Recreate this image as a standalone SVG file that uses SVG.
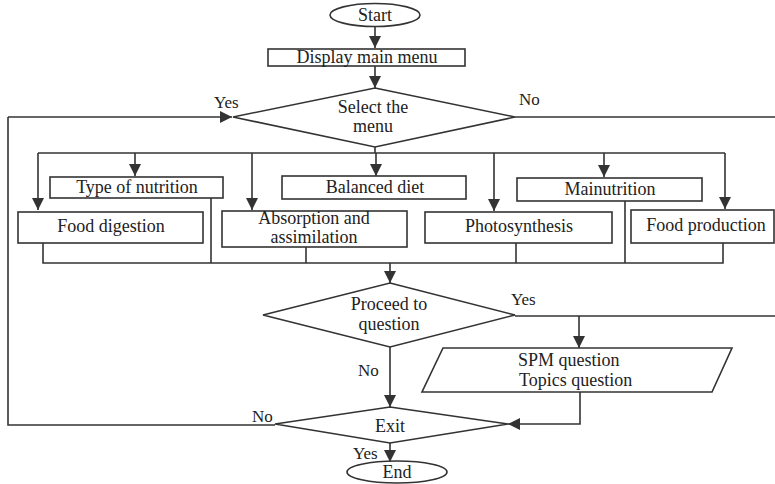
<svg xmlns="http://www.w3.org/2000/svg" width="775" height="484" viewBox="0 0 775 484">
<style>
.s{fill:#fff;stroke:#333;stroke-width:1.6}
.c{fill:none;stroke:#333;stroke-width:1.6}
text{font-family:"Liberation Serif","Times New Roman",serif;font-size:18px;fill:#222}
.m{text-anchor:middle}
.l{font-size:17px}
</style>
<defs>
<marker id="ah" viewBox="0 0 10 10" refX="10" refY="5" markerWidth="7" markerHeight="7" markerUnits="userSpaceOnUse" orient="auto">
<path d="M0,0 L10,5 L0,10 z" fill="#333"/>
</marker>
<marker id="a" viewBox="0 0 12 12" refX="12" refY="6" markerWidth="12" markerHeight="12" markerUnits="userSpaceOnUse" orient="auto">
<path d="M0,0 L12,6 L0,12 z" fill="#333"/>
</marker>
</defs>
<g id="connectors">
<path class="c" d="M375,27 V48" marker-end="url(#a)"/>
<path class="c" d="M375,66 V88" marker-end="url(#a)"/>
<path class="c" d="M8,117 H232" marker-end="url(#a)"/>
<path class="c" d="M8,117 V425 H275"/>
<path class="c" d="M515,117 H775"/>
<path class="c" d="M375,147 V153"/>
<path class="c" d="M38,153 H725"/>
<path class="c" d="M38,153 V210" marker-end="url(#a)"/>
<path class="c" d="M135,153 V176" marker-end="url(#a)"/>
<path class="c" d="M252,153 V210" marker-end="url(#a)"/>
<path class="c" d="M376,153 V176" marker-end="url(#a)"/>
<path class="c" d="M494,153 V211" marker-end="url(#a)"/>
<path class="c" d="M604,153 V177" marker-end="url(#a)"/>
<path class="c" d="M725,153 V209" marker-end="url(#a)"/>
<path class="c" d="M43,243 V263 H723 V243"/>
<path class="c" d="M211,198 V263"/>
<path class="c" d="M306,247 V263"/>
<path class="c" d="M516,243 V263"/>
<path class="c" d="M625,201 V263"/>
<path class="c" d="M390,263 V283" marker-end="url(#a)"/>
<path class="c" d="M515,316 H775"/>
<path class="c" d="M579,316 V348" marker-end="url(#a)"/>
<path class="c" d="M390,347 V407" marker-end="url(#a)"/>
<path class="c" d="M580,392 V424 H508" marker-end="url(#a)"/>
<path class="c" d="M390,443 V462" marker-end="url(#a)"/>
<text class="l" x="214" y="108">Yes</text>
<text class="l" x="519" y="105">No</text>
<text class="l" x="511" y="305">Yes</text>
<text class="l" x="358" y="376">No</text>
<text class="l" x="252" y="422">No</text>
<text class="l" x="353" y="459">Yes</text>
</g>
<g id="start">
<ellipse class="s" cx="375" cy="15" rx="45" ry="11.5"/>
<text class="m" x="375" y="21">Start</text>
</g>
<g id="display-main-menu">
<rect class="s" x="268" y="49" width="197" height="17"/>
<text class="m" x="367" y="63">Display main menu</text>
</g>
<g id="select-menu">
<polygon class="s" points="375,88 515,117 375,147 233,117"/>
<text class="m" x="373" y="113">Select the</text>
<text class="m" x="373" y="132">menu</text>
</g>
<g id="type-of-nutrition">
<rect class="s" x="50" y="177" width="173" height="21"/>
<text class="m" x="137" y="193">Type of nutrition</text>
</g>
<g id="balanced-diet">
<rect class="s" x="282" y="176" width="184" height="23"/>
<text class="m" x="375" y="193">Balanced diet</text>
</g>
<g id="mainutrition">
<rect class="s" x="517" y="178" width="185" height="23"/>
<text class="m" x="610" y="195">Mainutrition</text>
</g>
<g id="food-digestion">
<rect class="s" x="18" y="212" width="185" height="31"/>
<text class="m" x="111" y="232">Food digestion</text>
</g>
<g id="absorption">
<rect class="s" x="222" y="211" width="185" height="36"/>
<text class="m" x="314" y="224">Absorption and</text>
<text class="m" x="314" y="243">assimilation</text>
</g>
<g id="photosynthesis">
<rect class="s" x="425" y="212" width="187" height="31"/>
<text class="m" x="519" y="232">Photosynthesis</text>
</g>
<g id="food-production">
<rect class="s" x="631" y="210" width="143" height="33"/>
<text class="m" x="706" y="231">Food production</text>
</g>
<g id="proceed">
<polygon class="s" points="390,283 515,315 390,347 263,315"/>
<text class="m" x="389" y="310">Proceed to</text>
<text class="m" x="389" y="330">question</text>
</g>
<g id="questions">
<polygon class="s" points="443,348 732,348 712,392 422,392"/>
<text x="518" y="366">SPM question</text>
<text x="519" y="386">Topics question</text>
</g>
<g id="exit">
<polygon class="s" points="390,407 508,424 390,443 275,424"/>
<text class="m" x="390" y="432">Exit</text>
</g>
<g id="end">
<ellipse class="s" cx="397" cy="472" rx="50" ry="11"/>
<text class="m" x="397" y="478">End</text>
</g>
</svg>
